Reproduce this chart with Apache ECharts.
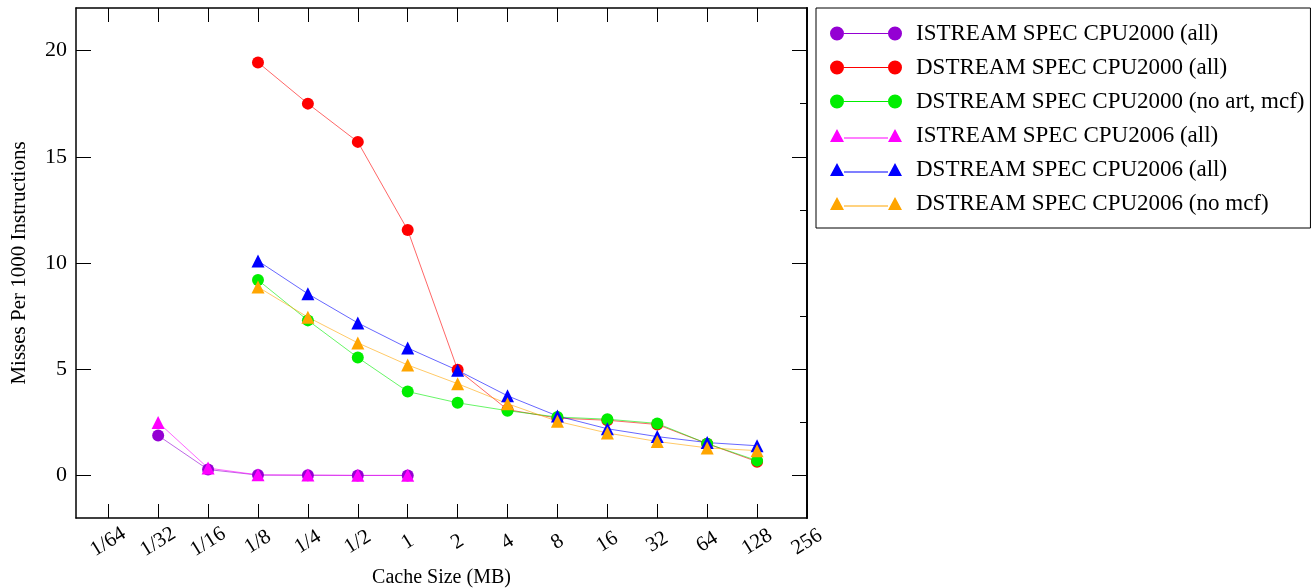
<!DOCTYPE html>
<html>
    <head>
        <meta charset="UTF-8" />
        <title>Cache misses</title>
        <style>
            html,
            body {
                margin: 0;
                padding: 0;
                background: #fff;
            }
            #chart {
                width: 1315px;
                height: 588px;
            }
        </style>
    </head>
    <body>
        <div id="chart"></div>
        <script src="https://cdn.jsdelivr.net/npm/echarts@6/dist/echarts.min.js"></script>
        <script>
            // x tick labels, one per power of two (log2 from -6 to 8)
            const xTickLabels = ["1/64", "1/32", "1/16", "1/8", "1/4", "1/2", "1", "2", "4", "8", "16", "32", "64", "128", "256"];
            // cache sizes for the data points
            const sizes = ["1/32", "1/16", "1/8", "1/4", "1/2", "1", "2", "4", "8", "16", "32", "64", "128"];

            const istream2000 = [1.88, 0.28, 0.02, 0.01, 0.0, 0.0, null, null, null, null, null, null, null];
            const dstream2000 = [null, null, 19.44, 17.5, 15.7, 11.55, 4.98, 3.1, 2.7, 2.6, 2.4, 1.5, 0.65];
            const dstream2000NoArt = [null, null, 9.2, 7.3, 5.55, 3.95, 3.42, 3.05, 2.75, 2.65, 2.45, 1.5, 0.7];
            const istream2006 = [2.5, 0.35, 0.03, 0.02, 0.01, 0.01, null, null, null, null, null, null, null];
            const dstream2006 = [null, null, 10.1, 8.55, 7.18, 6.0, 4.95, 3.75, 2.8, 2.2, 1.83, 1.55, 1.4];
            const dstream2006NoMcf = [null, null, 8.87, 7.45, 6.24, 5.2, 4.32, 3.38, 2.55, 2.0, 1.6, 1.3, 1.17];

            const yMajor = [0, 5, 10, 15, 20];
            const yMinor = [2.5, 7.5, 12.5, 17.5];

            const font = "Liberation Serif";
            const xTicks = xTickLabels.map((_, i) => i - 6);
            const log2 = (s) => xTickLabels.indexOf(s) - 6;

            const circleIcon =
                "path://M0,7 A7,7 0 1,1 14,7 A7,7 0 1,1 0,7 Z M14,6.5 L58,6.5 L58,7.5 L14,7.5 Z M58,7 A7,7 0 1,1 72,7 A7,7 0 1,1 58,7 Z";
            const triIcon = "path://M0,13 L7,0 L14,13 Z M14,8.5 L58,8.5 L58,9.5 L14,9.5 Z M58,13 L65,0 L72,13 Z";

            function makeSeries(name, values, color, symbol) {
                return {
                    name: name,
                    type: "line",
                    data: sizes.map((s, i) => [log2(s), values[i]]),
                    symbol: symbol,
                    symbolSize: symbol === "circle" ? 12 : 13,
                    itemStyle: { color: color },
                    lineStyle: { color: color, width: 1, opacity: 0.6 },
                    emphasis: { disabled: true },
                };
            }

            const axisLine = { show: true, onZero: false, lineStyle: { color: "#000", width: 1.5 } };
            const yBase = {
                type: "value",
                min: -2,
                max: 22,
                splitLine: { show: false },
                axisLine: axisLine,
            };
            const xBase = {
                type: "value",
                min: -6.646,
                max: 8.0,
                splitLine: { show: false },
                axisLine: axisLine,
                axisTick: { inside: true, length: 14, customValues: xTicks, lineStyle: { color: "#000" } },
            };

            const chart = echarts.init(document.getElementById("chart"));
            chart.setOption({
                animation: false,
                grid: { left: 76, top: 8, right: 508, bottom: 70, outerBoundsMode: "none" },
                legend: {
                    orient: "vertical",
                    left: 816,
                    top: 8,
                    padding: [14, 6, 13, 14],
                    itemWidth: 72,
                    itemHeight: 14,
                    itemGap: 11,
                    borderColor: "#000",
                    borderWidth: 1,
                    textStyle: { fontFamily: font, fontSize: 23, color: "#000", padding: [0, 0, 0, 9] },
                    data: [
                        { name: "ISTREAM SPEC CPU2000 (all)", icon: circleIcon },
                        { name: "DSTREAM SPEC CPU2000 (all)", icon: circleIcon },
                        { name: "DSTREAM SPEC CPU2000 (no art, mcf)", icon: circleIcon },
                        { name: "ISTREAM SPEC CPU2006 (all)", icon: triIcon },
                        { name: "DSTREAM SPEC CPU2006 (all)", icon: triIcon },
                        { name: "DSTREAM SPEC CPU2006 (no mcf)", icon: triIcon },
                    ],
                },
                xAxis: [
                    Object.assign({}, xBase, {
                        name: "Cache Size (MB)",
                        nameLocation: "middle",
                        nameGap: 50,
                        nameTextStyle: { fontFamily: font, fontSize: 20, color: "#000" },
                        axisLabel: {
                            customValues: xTicks,
                            formatter: (v) => xTickLabels[Math.round(v) + 6],
                            rotate: 32,
                            align: "center",
                            verticalAlign: "middle",
                            margin: 24,
                            fontFamily: font,
                            fontSize: 21,
                            color: "#000",
                        },
                    }),
                    Object.assign({}, xBase, {
                        position: "top",
                        axisLabel: { show: false },
                    }),
                ],
                yAxis: [
                    Object.assign({}, yBase, {
                        name: "Misses Per 1000 Instructions",
                        nameLocation: "middle",
                        nameGap: 46,
                        nameTextStyle: { fontFamily: font, fontSize: 21, color: "#000" },
                        axisTick: { inside: true, length: 15, customValues: yMajor, lineStyle: { color: "#000" } },
                        axisLabel: { customValues: yMajor, margin: 9, fontFamily: font, fontSize: 22, color: "#000" },
                    }),
                    Object.assign({}, yBase, {
                        axisTick: { inside: true, length: 7, customValues: yMinor, lineStyle: { color: "#000" } },
                        axisLabel: { show: false },
                    }),
                    Object.assign({}, yBase, {
                        position: "right",
                        axisTick: { inside: true, length: 15, customValues: yMajor, lineStyle: { color: "#000" } },
                        axisLabel: { show: false },
                    }),
                    Object.assign({}, yBase, {
                        position: "right",
                        axisTick: { inside: true, length: 7, customValues: yMinor, lineStyle: { color: "#000" } },
                        axisLabel: { show: false },
                    }),
                ],
                series: [
                    makeSeries("ISTREAM SPEC CPU2000 (all)", istream2000, "#9400d3", "circle"),
                    makeSeries("DSTREAM SPEC CPU2000 (all)", dstream2000, "#ff0000", "circle"),
                    makeSeries("DSTREAM SPEC CPU2000 (no art, mcf)", dstream2000NoArt, "#00ee00", "circle"),
                    makeSeries("ISTREAM SPEC CPU2006 (all)", istream2006, "#ff00ff", "triangle"),
                    makeSeries("DSTREAM SPEC CPU2006 (all)", dstream2006, "#0000ff", "triangle"),
                    makeSeries("DSTREAM SPEC CPU2006 (no mcf)", dstream2006NoMcf, "#ffa500", "triangle"),
                ],
            });
        </script>
    </body>
</html>
